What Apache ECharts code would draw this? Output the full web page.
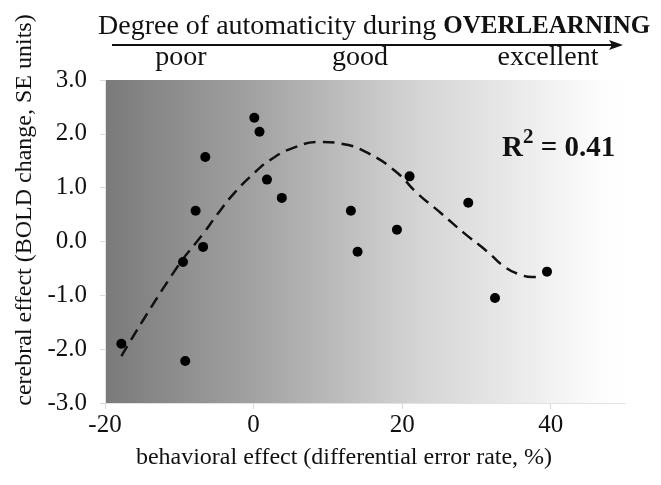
<!DOCTYPE html>
<html>
<head>
<meta charset="utf-8">
<script src="https://cdn.jsdelivr.net/npm/echarts@6/dist/echarts.min.js"></script>
<style>
html, body { margin: 0; padding: 0; background: #fff; }
#chart { width: 661px; height: 485px; }
</style>
</head>
<body>
<div id="chart"></div>
<script>
// tick labels
var xTicks = [-20, 0, 20, 40];
var yTicks = [-3, -2, -1, 0, 1, 2, 3];
var scaleLabels = ['poor', 'good', 'excellent'];

// one dot per subject: [behavioral effect %, cerebral effect SE]
var subjects = [
    [-17.8, -1.90], [-9.5, -0.38], [-9.2, -2.22], [-7.8, 0.57],
    [-6.8, -0.10], [-6.5, 1.57], [0.1, 2.30], [0.8, 2.04],
    [1.8, 1.15], [3.8, 0.81], [13.1, 0.57], [14.0, -0.19],
    [19.3, 0.22], [21.0, 1.21], [28.9, 0.72], [32.5, -1.05],
    [39.5, -0.56]
];

// dashed fit line
var fitCurve = [
    [-17.8, -2.13], [-10.5, -0.52], [-6.7, 0.16], [-4.9, 0.50],
    [-2.6, 0.90], [0.3, 1.30], [2.3, 1.52], [5.0, 1.72],
    [9.0, 1.85], [11.7, 1.82], [15.3, 1.65], [19.3, 1.28],
    [22.0, 0.90], [25.2, 0.53], [28.3, 0.16], [31.4, -0.18],
    [34.0, -0.49], [36.0, -0.62], [37.5, -0.66], [38.7, -0.65]
];

var serif = '"Liberation Serif", "Times New Roman", serif';
var ink = '#111';

var chart = echarts.init(document.getElementById('chart'));

chart.setOption({
    animation: false,
    grid: {
        left: 105,
        right: 36,
        top: 80,
        bottom: 82,
        show: true,
        borderWidth: 0,
        backgroundColor: {
            type: 'linear', x: 0, y: 0, x2: 1, y2: 0,
            colorStops: [
                { offset: 0, color: '#7a7a7a' },
                { offset: 0.3, color: '#a4a4a4' },
                { offset: 0.6, color: '#d4d4d4' },
                { offset: 0.95, color: '#fcfcfc' },
                { offset: 1, color: '#ffffff' }
            ]
        }
    },
    xAxis: {
        type: 'value',
        min: -20,
        max: 50,
        interval: 20,
        axisLine: { show: true, onZero: false, lineStyle: { color: '#e2e2e2' } },
        axisTick: { show: true, length: 6, customValues: xTicks, lineStyle: { color: '#dadada' } },
        axisLabel: {
            customValues: xTicks,
            margin: 10,
            fontSize: 25,
            fontFamily: serif,
            color: ink
        },
        splitLine: { show: false }
    },
    yAxis: {
        type: 'value',
        min: -3,
        max: 3,
        interval: 1,
        axisLine: { show: true, onZero: false, lineStyle: { color: '#e2e2e2' } },
        axisTick: { show: true, length: 5, customValues: yTicks, lineStyle: { color: '#dadada' } },
        axisLabel: {
            customValues: yTicks,
            margin: 18,
            fontSize: 25,
            fontFamily: serif,
            color: ink,
            formatter: function (v) { return v.toFixed(1); }
        },
        splitLine: { show: false }
    },
    series: [
        {
            name: 'fit',
            type: 'line',
            data: fitCurve,
            smooth: true,
            symbol: 'none',
            silent: true,
            lineStyle: { color: ink, width: 2.5, type: [12, 7] },
            z: 2
        },
        {
            name: 'subjects',
            type: 'scatter',
            data: subjects,
            symbolSize: 10,
            itemStyle: { color: '#000', opacity: 1 },
            z: 3
        }
    ],
    graphic: [
        // arrow above the plot
        {
            type: 'line',
            shape: { x1: 112, y1: 45, x2: 616, y2: 45 },
            style: { stroke: ink, lineWidth: 2 }
        },
        {
            type: 'polygon',
            shape: { points: [[609, 40], [623, 45], [609, 50], [612, 45]] },
            style: { fill: ink }
        },
        {
            type: 'text',
            x: 98,
            y: 27,
            style: {
                text: '{r|Degree of automaticity during }{b|OVERLEARNING}',
                verticalAlign: 'middle',
                rich: {
                    r: { fontSize: 28, fontFamily: serif, fill: ink },
                    b: { fontSize: 25, fontFamily: serif, fontWeight: 'bold', fill: ink }
                }
            }
        },
        { type: 'text', x: 181, y: 58, style: { text: scaleLabels[0], fontSize: 28, fontFamily: serif, fill: ink, align: 'center', verticalAlign: 'middle' } },
        { type: 'text', x: 360, y: 58, style: { text: scaleLabels[1], fontSize: 28, fontFamily: serif, fill: ink, align: 'center', verticalAlign: 'middle' } },
        { type: 'text', x: 548, y: 58, style: { text: scaleLabels[2], fontSize: 28, fontFamily: serif, fill: ink, align: 'center', verticalAlign: 'middle' } },
        // R squared
        {
            type: 'text',
            x: 502,
            y: 145,
            z: 10,
            style: {
                text: '{a|R}{s|2}{a| = 0.41}',
                verticalAlign: 'middle',
                rich: {
                    a: { fontSize: 29, fontFamily: serif, fontWeight: 'bold', fill: ink, lineHeight: 36, verticalAlign: 'bottom' },
                    s: { fontSize: 21, fontFamily: serif, fontWeight: 'bold', fill: ink, lineHeight: 24, verticalAlign: 'top' }
                }
            }
        },
        // axis names
        {
            type: 'text',
            x: 25,
            y: 210,
            rotation: Math.PI / 2,
            style: {
                text: 'cerebral effect (BOLD change, SE units)',
                fontSize: 24, fontFamily: serif, fill: ink,
                align: 'center', verticalAlign: 'middle'
            }
        },
        {
            type: 'text',
            x: 344,
            y: 458,
            style: {
                text: 'behavioral effect (differential error rate, %)',
                fontSize: 24, fontFamily: serif, fill: ink,
                align: 'center', verticalAlign: 'middle'
            }
        }
    ]
});
</script>
</body>
</html>
